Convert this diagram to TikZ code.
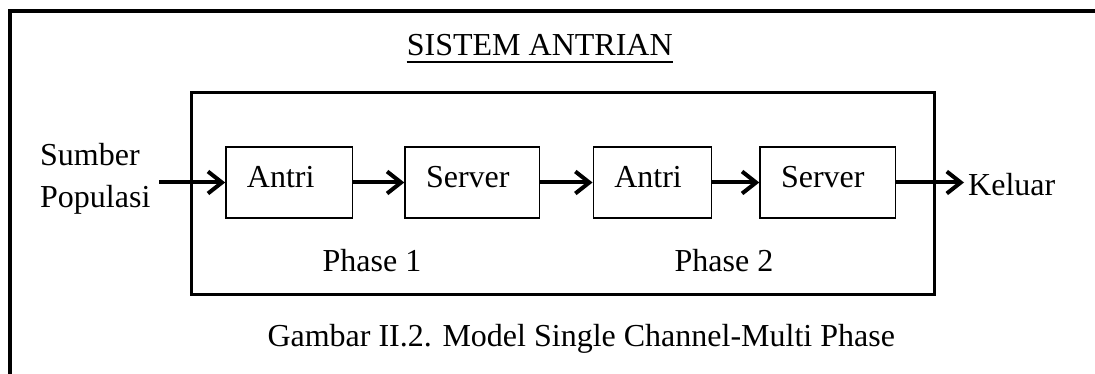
\documentclass[tikz,border=0pt]{standalone}
\usepackage{fontspec}
\setmainfont{Liberation Serif}
\usetikzlibrary{arrows.meta}
\begin{document}
\begin{tikzpicture}[x=1pt,y=-1pt,
  txt/.style={inner sep=0pt, font=\fontsize{32}{38}\selectfont},
  qbox/.style={draw, line width=1.5pt, minimum height=71pt, inner xsep=21pt, inner ysep=0pt,
    align=left, text width=#1, text height=21pt, text depth=11pt,
    font=\fontsize{32}{38}\selectfont},
  sysbox/.style={draw, line width=3pt, inner sep=0pt},
  flow/.style={line width=4pt, -{Straight Barb[length=14pt,width=22pt,line join=miter,line cap=butt]}},
  frameline/.style={line width=4pt}]
\useasboundingbox (0,0) rectangle (1095,374);
\clip (0,0) rectangle (1095,374);
% outer frame (only top and left visible)
\draw[frameline] (10,390) -- (10,11) -- (1110,11);
% system box
\node[sysbox, minimum width=742.6pt, minimum height=201.7pt] (sys) at (563,193.85) {};
% title
\node[txt, anchor=base west] (title) at (406.7,56) {SISTEM ANTRIAN};
\draw[line width=2pt] ([yshift=-5.7pt]title.base west) -- ([yshift=-5.7pt]title.base east);
% queue/server boxes
\node[qbox=84.7pt] (a1) at (289.3,182.5) {Antri};
\node[qbox=92.3pt] (s1) at (472.2,182.5) {Server};
\node[qbox=76.4pt] (a2) at (652.5,182.5) {Antri};
\node[qbox=93.5pt] (s2) at (827.8,182.5) {Server};
% source and exit
\node[txt, anchor=base west] (srcA) at (40,166) {Sumber};
\node[txt, anchor=base west] (srcB) at (40,207.5) {Populasi};
\coordinate (in) at (159,182.5);
\node[txt, anchor=base west] (out) at (968,196) {Keluar};
% flows
\draw[flow] (in) -- (a1.west);
\draw[flow] (a1) -- (s1);
\draw[flow] (s1) -- (a2);
\draw[flow] (a2) -- (s2);
\draw[flow] (s2.east) -- ([xshift=-4pt]s2.east -| out.west);
% phase labels
\node[txt, anchor=base] (p1) at (372,271) {Phase 1};
\node[txt, anchor=base] (p2) at (724,271) {Phase 2};
% caption
\node[txt, anchor=base west] (cap) at (267.3,346) {Gambar II.2. Model Single Channel-Multi Phase};
\end{tikzpicture}
\end{document}
